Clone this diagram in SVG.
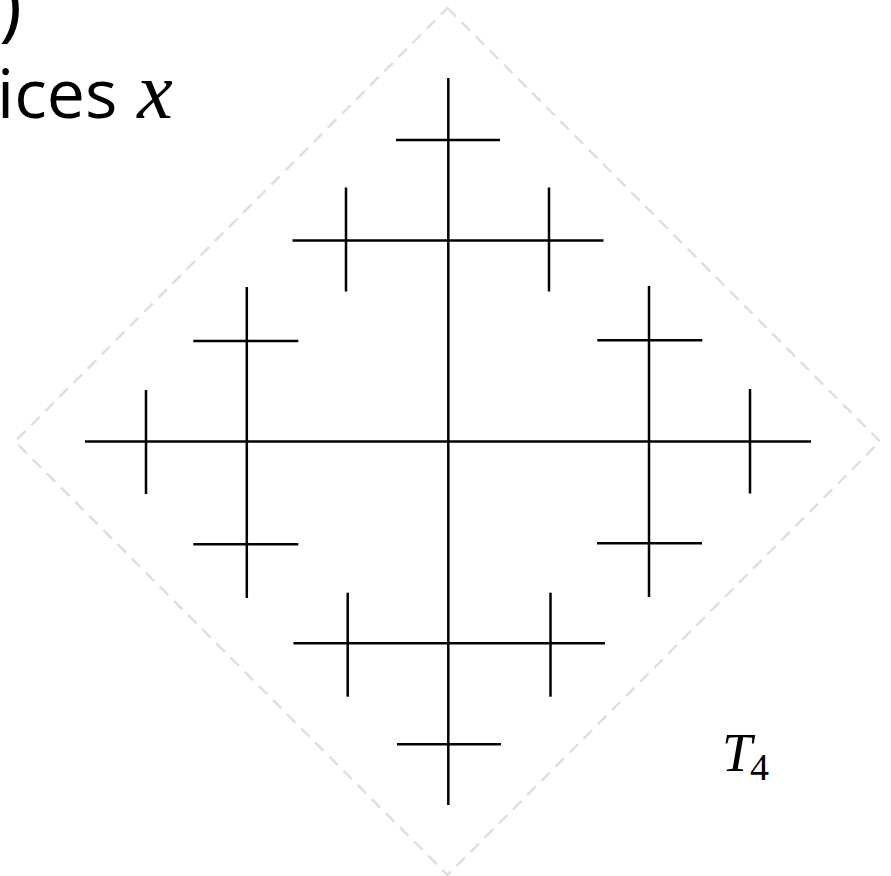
<svg xmlns="http://www.w3.org/2000/svg" width="891" height="876" viewBox="0 0 891 876">
<style>
.bg{fill:#ffffff}
.frame{fill:none;stroke:#dedede;stroke-width:2.4;stroke-dasharray:12 8}
.br{stroke:#000;stroke-width:2.5;stroke-linecap:butt;fill:none}
.txt{font-family:"Open Sans","Noto Sans",sans-serif;fill:#000}
.math{font-family:"Liberation Serif","DejaVu Serif",serif;font-style:italic;fill:#000}
</style>
<rect class="bg" x="0" y="0" width="891" height="876"/>
<g id="caption">
<text class="txt" x="-1" y="32" font-size="78">)</text>
<text class="txt" x="-3" y="118" font-size="68">ices<tspan class="math" font-size="80" dx="20">x</tspan></text>
</g>
<g id="frame">
<polygon class="frame" points="447.5,8 880,441.5 447.5,875 15,441.5"/>
</g>
<g id="tree">
<g id="level1">
<line class="br" x1="85" y1="441.5" x2="811" y2="441.5"/>
<line class="br" x1="448.3" y1="78" x2="448.3" y2="805"/>
</g>
<g id="level2">
<line class="br" x1="292.5" y1="240.5" x2="603.5" y2="240.5"/>
<line class="br" x1="293.5" y1="643.3" x2="605" y2="643.3"/>
<line class="br" x1="246.8" y1="287" x2="246.8" y2="598"/>
<line class="br" x1="649" y1="286" x2="649" y2="597"/>
</g>
<g id="level3">
<line class="br" x1="396" y1="140" x2="500" y2="140"/>
<line class="br" x1="397" y1="744.3" x2="501" y2="744.3"/>
<line class="br" x1="346" y1="187.5" x2="346" y2="291.5"/>
<line class="br" x1="549" y1="187.5" x2="549" y2="291.5"/>
<line class="br" x1="347.7" y1="592.7" x2="347.7" y2="696.7"/>
<line class="br" x1="550.5" y1="592.7" x2="550.5" y2="696.7"/>
<line class="br" x1="146" y1="390" x2="146" y2="494"/>
<line class="br" x1="750" y1="389" x2="750" y2="493.5"/>
<line class="br" x1="193.3" y1="341" x2="298.3" y2="341"/>
<line class="br" x1="193.3" y1="544.3" x2="298.3" y2="544.3"/>
<line class="br" x1="597.3" y1="340.3" x2="702.3" y2="340.3"/>
<line class="br" x1="597" y1="543.3" x2="702" y2="543.3"/>
</g>
</g>
<g id="label">
<text class="math" x="722" y="771" font-size="54">T<tspan font-style="normal" font-size="38" dy="9" dx="-2">4</tspan></text>
</g>
</svg>
